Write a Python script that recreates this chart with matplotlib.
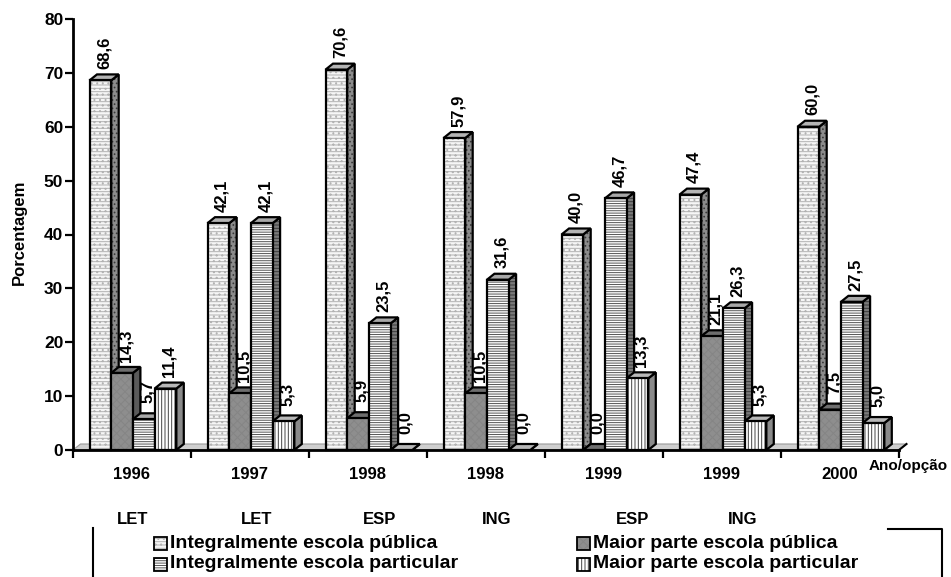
import matplotlib
matplotlib.use("Agg")
import matplotlib.pyplot as plt
from matplotlib.patches import Polygon, Rectangle
from matplotlib.lines import Line2D
import numpy as np

plt.rcParams["font.family"] = ["Liberation Sans", "DejaVu Sans"]
plt.rcParams["font.weight"] = "bold"
plt.rcParams["hatch.linewidth"] = 0.7

# ---- data -------------------------------------------------------------
years = ["1996", "1997", "1998", "1998", "1999", "1999", "2000"]
options = ["LET", "LET", "ESP", "ING", "ESP", "ING"]
series_names = [
    "Integralmente escola pública",
    "Maior parte escola pública",
    "Integralmente escola particular",
    "Maior parte escola particular",
]
integral_publica = [68.6, 42.1, 70.6, 57.9, 40.0, 47.4, 60.0]
maior_publica = [14.3, 10.5, 5.9, 10.5, 0.0, 21.1, 7.5]
integral_particular = [5.7, 42.1, 23.5, 31.6, 46.7, 26.3, 27.5]
maior_particular = [11.4, 5.3, 0.0, 0.0, 13.3, 5.3, 5.0]
yticks = [0, 10, 20, 30, 40, 50, 60, 70, 80]

series = [integral_publica, maior_publica, integral_particular, maior_particular]

# face / side / top styling per series
styles = [
    dict(face="#f6f6f6", hatch="-----...", hcol="#b2b2b2",
         side="#8c8c8c", shatch="....", top="#b4b4b4"),
    dict(face="#8e8e8e", hatch="xxxx", hcol="#858585",
         side="#5a5a5a", shatch="", top="#6e6e6e"),
    dict(face="#ffffff", hatch="-------", hcol="#555555",
         side="#7a7a7a", shatch="-----", top="#a8a8a8"),
    dict(face="#ffffff", hatch="|||||", hcol="#444444",
         side="#8a8a8a", shatch="", top="#b8b8b8"),
]

W, H = 951, 577
fig = plt.figure(figsize=(W / 100, H / 100), dpi=100)

# axes box in pixels: y-axis at x=73, baseline at y=450, top (80) at y=19, right end x=899
ax_l, ax_r, ax_t, ax_b = 73, 899, 19, 450
ax = fig.add_axes([ax_l / W, 1 - ax_b / H, (ax_r - ax_l) / W, (ax_b - ax_t) / H])

ngroups = len(years)
ax.set_xlim(0, ngroups)
ax.set_ylim(0, 80)

px_x = (ax_r - ax_l) / ngroups      # pixels per group
px_y = (ax_b - ax_t) / 80.0         # pixels per percent
DX = 7.5 / px_x                     # 3d depth offset (data units)
DY = 6.0 / px_y
BAR_W = 21.7 / px_x
OFF = 16.5 / px_x
LW = 1.6


def hatched_poly(ax, verts, fc, hatch, hcol, z):
    ax.add_patch(Polygon(verts, closed=True, facecolor=fc, hatch=hatch or None,
                         edgecolor=hcol, linewidth=0, zorder=z, clip_on=False))
    ax.add_patch(Polygon(verts, closed=True, fill=False, edgecolor="black",
                         linewidth=LW, joinstyle="miter", zorder=z + 0.01, clip_on=False))


def bar3d(ax, x0, h, st, z):
    x1 = x0 + BAR_W
    side = [(x1, 0), (x1 + DX, DY), (x1 + DX, h + DY), (x1, h)]
    top = [(x0, h), (x0 + DX, h + DY), (x1 + DX, h + DY), (x1, h)]
    hatched_poly(ax, side, st["side"], st["shatch"], "#3a3a3a", z)
    hatched_poly(ax, top, st["top"], "", "black", z + 0.02)
    if h > 0:
        hatched_poly(ax, [(x0, 0), (x1, 0), (x1, h), (x0, h)],
                     st["face"], st["hatch"], st["hcol"], z + 0.04)


# floor
floor = [(0, 0), (ngroups, 0), (ngroups + DX, DY), (DX, DY)]
ax.add_patch(Polygon(floor, closed=True, facecolor="#cfcfcf", edgecolor="#9a9a9a",
                     linewidth=0.8, zorder=1, clip_on=False))
ax.add_line(Line2D([ngroups, ngroups + DX], [0, DY], color="black", lw=1.5,
                   zorder=1.5, clip_on=False))

z = 2
for g in range(ngroups):
    for k, vals in enumerate(series):
        x0 = g + OFF + k * BAR_W
        v = vals[g]
        bar3d(ax, x0, v, styles[k], z)
        ax.text(x0 + BAR_W / 2 + DX / 2, v + 27.5 / px_y,
                f"{v:.1f}".replace(".", ","), rotation=90, ha="center", va="center",
                fontsize=12, fontweight="bold", zorder=z + 0.5)
        z += 1

# axes styling
for s in ["top", "right"]:
    ax.spines[s].set_visible(False)
for s in ["left", "bottom"]:
    ax.spines[s].set_linewidth(2)
    ax.spines[s].set_zorder(200)
ax.set_yticks(yticks)
ax.set_yticklabels([str(t) for t in yticks], fontsize=12.5, fontweight="bold")
ax.tick_params(axis="y", direction="out", length=6, width=1.6, pad=1)
ax.set_xticks(np.arange(ngroups + 1))
ax.set_xticklabels([])
ax.tick_params(axis="x", which="major", direction="out", length=6, width=1.6)
ax.set_xticks(np.arange(ngroups) + 0.5, minor=True)
ax.set_xticklabels(years, minor=True, fontsize=12, fontweight="bold")
ax.tick_params(axis="x", which="minor", length=0, pad=12)
ax.set_ylabel("Porcentagem", fontsize=12, fontweight="bold")
ax.yaxis.set_label_coords((27 - ax_l) / (ax_r - ax_l), 1 - (232 - ax_t) / (ax_b - ax_t))
ax.patch.set_alpha(0)

fig.text(869 / W, 1 - 466 / H, "Ano/opção", fontsize=11, fontweight="bold",
         ha="left", va="center")

# second row of category labels (course option)
opt_x = [133, 257, 380, 497, 633, 743]
for xp, lab in zip(opt_x, options):
    fig.text(xp / W, 1 - 519 / H, lab, fontsize=12, fontweight="bold",
             ha="center", va="center")

# legend
leg_pos = [(154, 543), (577, 543), (154, 564), (577, 564)]
msz = 13
for (xp, yp), name, st in zip(leg_pos, series_names, styles):
    r = Rectangle(((xp) / W, 1 - (yp + msz / 2) / H), msz / W, msz / H,
                  transform=fig.transFigure, facecolor=st["face"], hatch=st["hatch"],
                  edgecolor=st["hcol"], linewidth=0)
    fig.patches.append(r)
    fig.patches.append(Rectangle(((xp) / W, 1 - (yp + msz / 2) / H), msz / W, msz / H,
                                 transform=fig.transFigure, fill=False,
                                 edgecolor="black", linewidth=1.3))
    fig.text((xp + msz + 3) / W, 1 - yp / H, name, fontsize=14, fontweight="bold",
             ha="left", va="center")

fig.add_artist(Line2D([93 / W, 93 / W], [1 - 528 / H, 0], color="black", lw=1.5,
                      transform=fig.transFigure))
fig.add_artist(Line2D([888 / W, 942 / W, 942 / W], [1 - 529 / H, 1 - 529 / H, 0],
                      color="black", lw=1.5, transform=fig.transFigure))

fig.savefig("out.png", dpi=100)
